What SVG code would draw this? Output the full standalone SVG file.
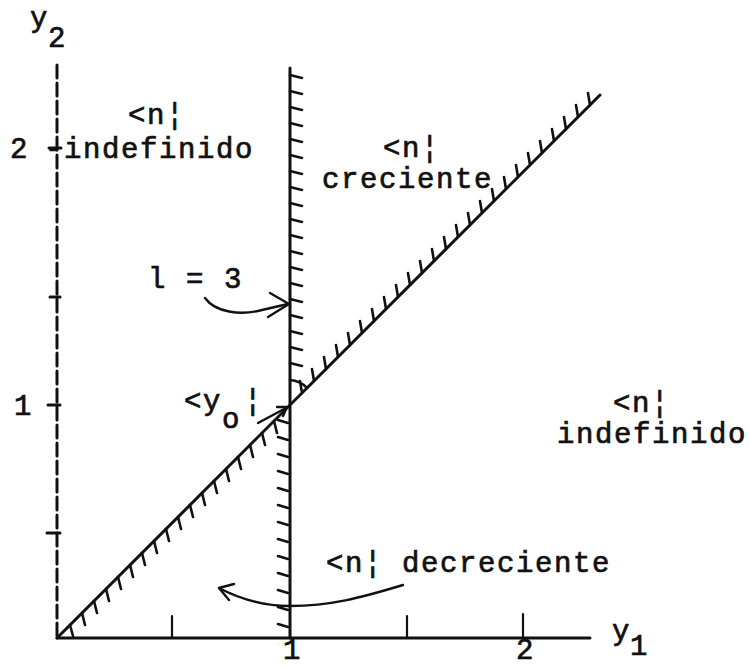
<svg xmlns="http://www.w3.org/2000/svg" width="750" height="667" viewBox="0 0 750 667">
<style>
.t{font-family:"Liberation Mono","DejaVu Sans Mono",monospace;font-size:29px;letter-spacing:1.6px;fill:#111;stroke:#111;stroke-width:0.7}
.s{font-family:"Liberation Mono","DejaVu Sans Mono",monospace;font-size:29px;fill:#111;stroke:#111;stroke-width:0.7}
.ax{stroke:#111;stroke-width:3;fill:none;stroke-linecap:round}
.tk{stroke:#111;stroke-width:2.2;fill:none;stroke-linecap:round}
.h{stroke:#111;stroke-width:2.6;fill:none;stroke-linecap:round}
.c{stroke:#111;stroke-width:2.4;fill:none;stroke-linecap:round;stroke-linejoin:round}
</style>
<rect width="750" height="667" fill="#fff"/>
<g id="axes">
  <path class="ax" d="M57 65 V638" stroke-width="2.4" stroke-dasharray="13 5"/>
  <path class="ax" d="M57 638 H590"/>
  <path class="ax" d="M49 148 H61 M50 297 H60 M48 405 H60 M47 533 H60"/>
  <path class="tk" d="M172 616 V638 M407 616 V638 M523 614 V638"/>
  <text class="s" x="10" y="158">2</text>
  <text class="s" x="14" y="415">1</text>
  <text class="s" x="283" y="659" font-size="27">1</text>
  <text class="s" x="516" y="659" font-size="27">2</text>
  <text class="s" x="30" y="27">y</text>
  <text class="s" x="48" y="47">2</text>
  <text class="s" x="612" y="640">y</text>
  <text class="s" x="630" y="655">1</text>
</g>
<g id="vertical-line">
  <path class="ax" d="M290 68 V638"/>
  <path class="h" d="M290 75 l12 3 M290 91 l12 3 M290 107 l12 3 M290 123 l12 3 M290 139 l12 3 M290 155 l12 3 M290 171 l12 3 M290 187 l12 3 M290 203 l12 3 M290 219 l12 3 M290 235 l12 3 M290 251 l12 3 M290 267 l12 3 M290 283 l12 3 M290 299 l12 3 M290 315 l12 3 M290 331 l12 3 M290 347 l12 3 M290 363 l12 3"/>
  <path class="h" d="M278 420 l10 3 M278 437 l10 3 M278 454 l10 3 M278 471 l10 3 M278 488 l10 3 M278 505 l10 3 M278 522 l10 3 M278 539 l10 3 M278 556 l10 3 M278 573 l10 3 M278 590 l10 3 M278 607 l10 3 M278 624 l10 3"/>
  <path class="h" d="M290 380 A25 25 0 0 1 307 388"/>
</g>
<g id="diagonal-line">
  <path class="ax" d="M57 638 L600 95"/>
  <path class="h" d="M302 393 l-2 -12 M314 381 l-2 -12 M326 369 l-2 -12 M338 357 l-2 -12 M350 345 l-2 -12 M362 333 l-2 -12 M374 321 l-2 -12 M386 309 l-2 -12 M398 297 l-2 -12 M410 285 l-2 -12 M422 273 l-2 -12 M434 261 l-2 -12 M446 249 l-2 -12 M458 237 l-2 -12 M470 225 l-2 -12 M482 213 l-2 -12 M494 201 l-2 -12 M506 189 l-2 -12 M518 177 l-2 -12 M530 165 l-2 -12 M542 153 l-2 -12 M554 141 l-2 -12 M566 129 l-2 -12 M578 117 l-2 -12 M590 105 l-2 -12"/>
  <path class="h" d="M70 625 l3 11 M82 613 l3 12 M94 601 l3 12 M106 589 l3 12 M118 577 l3 12 M130 565 l3 12 M142 553 l3 12 M154 541 l3 12 M166 529 l3 12 M178 517 l3 12 M190 505 l3 12 M202 493 l3 12 M214 481 l3 12 M226 469 l3 12 M238 457 l3 12 M250 445 l3 12 M262 433 l3 12 M274 421 l3 12"/>
</g>
<g id="region-upper-left">
  <text class="t" x="128" y="124">&lt;n¦</text>
  <text class="t" x="45" y="158">-indefinido</text>
</g>
<g id="region-creciente">
  <text class="t" x="383" y="157">&lt;n¦</text>
  <text class="t" x="322" y="188">creciente</text>
</g>
<g id="region-right">
  <text class="t" x="613" y="412">&lt;n¦</text>
  <text class="t" x="557" y="443">indefinido</text>
</g>
<g id="label-l3">
  <text class="t" x="148" y="288">l = 3</text>
</g>
<g id="label-y0">
  <text class="t" x="184" y="410">&lt;y</text>
  <text class="t" x="222" y="428">o</text>
  <text class="t" x="244" y="410">¦</text>
</g>
<g id="label-decreciente">
  <text class="t" x="326" y="572">&lt;n¦ decreciente</text>
</g>
<g id="connectors">
  <path class="c" d="M205 298 C215 312 240 316 262 310 L288 304"/>
  <path class="c" d="M270 293 L289 304 L268 317"/>
  <path class="c" d="M258 423 L286 408"/>
  <path class="c" d="M277 407 L287 407 L283 416"/>
  <path class="c" d="M403 585 C360 598 330 606 290 606 C260 606 238 598 219 588"/>
  <path class="c" d="M234 584 L219 588 L229 600"/>
</g>
</svg>
